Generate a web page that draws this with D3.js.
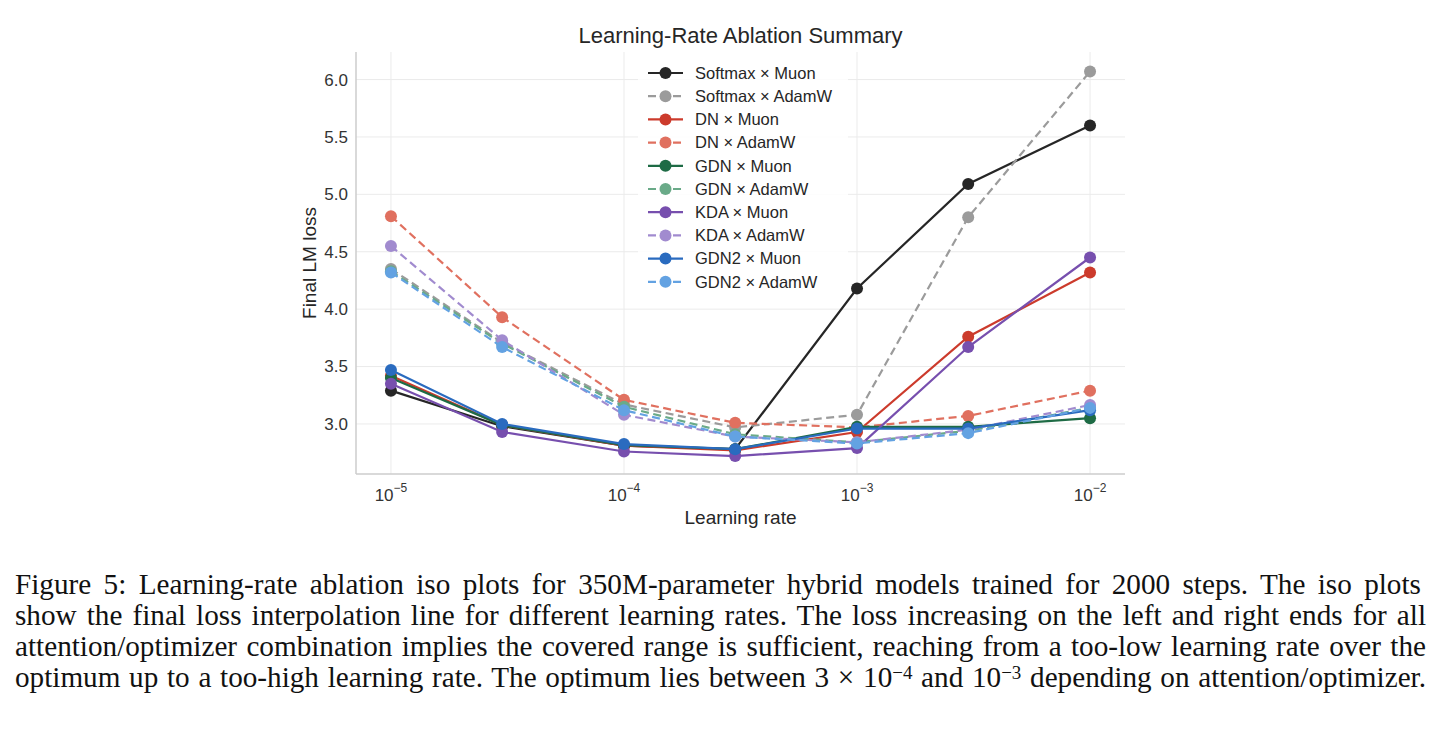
<!DOCTYPE html>
<html>
<head>
<meta charset="utf-8">
<style>
  body { margin: 0; background: #fff; }
  svg { display: block; }
</style>
<script src="https://cdn.jsdelivr.net/npm/d3@7"></script>
</head>
<body>
<div id="chart"></div>
<script>
// learning rates swept
var lrs = [1e-5, 3e-5, 1e-4, 3e-4, 1e-3, 3e-3, 1e-2];

// final LM loss per attention x optimizer combination
var softmaxMuon  = [3.29, 2.98, 2.81, 2.78, 4.18, 5.09, 5.60];
var softmaxAdamW = [4.35, 3.71, 3.17, 2.97, 3.08, 4.80, 6.07];
var dnMuon       = [3.42, 2.99, 2.81, 2.77, 2.93, 3.76, 4.32];
var dnAdamW      = [4.81, 3.93, 3.21, 3.01, 2.97, 3.07, 3.29];
var gdnMuon      = [3.40, 2.99, 2.815, 2.78, 2.975, 2.975, 3.05];
var gdnAdamW     = [4.33, 3.70, 3.15, 2.91, 2.84, 2.94, 3.14];
var kdaMuon      = [3.35, 2.93, 2.76, 2.72, 2.79, 3.67, 4.45];
var kdaAdamW     = [4.55, 3.73, 3.08, 2.89, 2.84, 2.95, 3.165];
var gdn2Muon     = [3.47, 3.00, 2.825, 2.78, 2.96, 2.96, 3.12];
var gdn2AdamW    = [4.32, 3.67, 3.12, 2.89, 2.83, 2.92, 3.14];

var seriesNames = ["Softmax × Muon", "Softmax × AdamW", "DN × Muon", "DN × AdamW",
                   "GDN × Muon", "GDN × AdamW", "KDA × Muon", "KDA × AdamW",
                   "GDN2 × Muon", "GDN2 × AdamW"];
var seriesValues = [softmaxMuon, softmaxAdamW, dnMuon, dnAdamW, gdnMuon, gdnAdamW,
                    kdaMuon, kdaAdamW, gdn2Muon, gdn2AdamW];
var colors = ["#262626", "#9b9b9b", "#cc3b2c", "#e0705f", "#1e6b45", "#6aaa88",
              "#774fae", "#a18bcf", "#2a6bbf", "#63a2e2"];
var dashed = [false, true, false, true, false, true, false, true, false, true];

var xTicks = [1e-5, 1e-4, 1e-3, 1e-2];
var yTicks = [3.0, 3.5, 4.0, 4.5, 5.0, 5.5, 6.0];

var captionLines = [
  "Figure 5: Learning-rate ablation iso plots for 350M-parameter hybrid models trained for 2000 steps.  The iso plots",
  "show the final loss interpolation line for different learning rates. The loss increasing on the left and right ends for all",
  "attention/optimizer combination implies the covered range is sufficient, reaching from a too-low learning rate over the",
  null
];

var W = 1440, H = 734;
var plotLeft = 356, plotRight = 1125, plotTop = 52, plotBottom = 474;
var font = "'Liberation Sans', Arial, sans-serif";

var svg = d3.select("#chart").append("svg")
    .attr("width", W).attr("height", H);

var x = d3.scaleLog().domain([Math.pow(10, -5.15), Math.pow(10, -1.85)]).range([plotLeft, plotRight]);
var y = d3.scaleLinear().domain([2.564, 6.24]).range([plotBottom, plotTop]);

// grid
var grid = svg.append("g");
grid.selectAll("line.gy").data(yTicks).enter().append("line")
    .attr("x1", plotLeft).attr("x2", plotRight)
    .attr("y1", function(d) { return y(d); }).attr("y2", function(d) { return y(d); })
    .attr("stroke", "#ebebeb").attr("stroke-width", 1);
grid.selectAll("line.gx").data(xTicks).enter().append("line")
    .attr("y1", plotTop).attr("y2", plotBottom)
    .attr("x1", function(d) { return x(d); }).attr("x2", function(d) { return x(d); })
    .attr("stroke", "#ebebeb").attr("stroke-width", 1);

// spines
svg.append("line").attr("x1", plotLeft).attr("x2", plotLeft).attr("y1", plotTop).attr("y2", plotBottom)
    .attr("stroke", "#cccccc").attr("stroke-width", 1.5);
svg.append("line").attr("x1", plotLeft).attr("x2", plotRight).attr("y1", plotBottom).attr("y2", plotBottom)
    .attr("stroke", "#cccccc").attr("stroke-width", 1.5);

// y tick labels
svg.selectAll("text.yt").data(yTicks).enter().append("text")
    .attr("x", plotLeft - 8).attr("y", function(d) { return y(d); })
    .attr("dy", "0.35em").attr("text-anchor", "end")
    .attr("font-family", font).attr("font-size", 17).attr("fill", "#333")
    .text(function(d) { return d.toFixed(1); });

// x tick labels 10^n
xTicks.forEach(function(d) {
  var t = svg.append("text")
      .attr("x", x(d)).attr("y", plotBottom + 27)
      .attr("text-anchor", "middle")
      .attr("font-family", font).attr("font-size", 17).attr("fill", "#333");
  t.append("tspan").text("10");
  t.append("tspan").attr("font-size", 12).attr("dy", -9)
      .text("−" + Math.round(-Math.log10(d)));
});

// axis labels and title
svg.append("text").attr("x", (plotLeft + plotRight) / 2).attr("y", 524)
    .attr("text-anchor", "middle").attr("font-family", font).attr("font-size", 19)
    .attr("fill", "#262626").text("Learning rate");
svg.append("text").attr("transform", "translate(316," + ((plotTop + plotBottom) / 2) + ") rotate(-90)")
    .attr("text-anchor", "middle").attr("font-family", font).attr("font-size", 19)
    .attr("fill", "#262626").text("Final LM loss");
svg.append("text").attr("x", (plotLeft + plotRight) / 2).attr("y", 43)
    .attr("text-anchor", "middle").attr("font-family", font).attr("font-size", 22)
    .attr("fill", "#262626").text("Learning-Rate Ablation Summary");

// series
var line = d3.line()
    .x(function(d, i) { return x(lrs[i]); })
    .y(function(d) { return y(d); });

seriesValues.forEach(function(vals, k) {
  var g = svg.append("g");
  g.append("path").datum(vals)
      .attr("d", line).attr("fill", "none")
      .attr("stroke", colors[k]).attr("stroke-width", 2.2)
      .attr("stroke-dasharray", dashed[k] ? "8,4.5" : null);
  g.selectAll("circle").data(vals).enter().append("circle")
      .attr("cx", function(d, i) { return x(lrs[i]); })
      .attr("cy", function(d) { return y(d); })
      .attr("r", 6).attr("fill", colors[k]);
});

// legend
var lg = svg.append("g");
lg.append("rect").attr("x", 638).attr("y", 60).attr("width", 210).attr("height", 234)
    .attr("fill", "#fff").attr("fill-opacity", 0.85);
seriesNames.forEach(function(name, k) {
  var yy = 73 + k * 23.2;
  lg.append("line").attr("x1", 648).attr("x2", 683).attr("y1", yy).attr("y2", yy)
      .attr("stroke", colors[k]).attr("stroke-width", 2.2)
      .attr("stroke-dasharray", dashed[k] ? "8,4.5" : null);
  lg.append("circle").attr("cx", 665.5).attr("cy", yy).attr("r", 6).attr("fill", colors[k]);
  lg.append("text").attr("x", 695).attr("y", yy).attr("dy", "0.35em")
      .attr("font-family", font).attr("font-size", 16.5).attr("fill", "#262626")
      .text(name);
});

// caption (fit size to the widest line, then justify)
var serif = "'Liberation Serif', 'Times New Roman', serif";
var capX = 15, capW = 1411, capSize = 24;
var baselines = [594, 625, 656, 687];
var capTexts = [];
captionLines.forEach(function(s, i) {
  var t = svg.append("text").attr("x", capX).attr("y", baselines[i])
      .attr("font-family", serif).attr("font-size", capSize).attr("fill", "#111");
  if (s !== null) {
    t.text(s);
  } else {
    t.append("tspan").text("optimum up to a too-high learning rate. The optimum lies between 3 × 10");
    t.append("tspan").attr("class", "sup").attr("dy", -8).text("−4");
    t.append("tspan").attr("dy", 8).text(" and 10");
    t.append("tspan").attr("class", "sup").attr("dy", -8).text("−3");
    t.append("tspan").attr("dy", 8).text(" depending on attention/optimizer.");
  }
  capTexts.push(t);
});
capTexts[3].selectAll("tspan.sup").attr("font-size", capSize * 0.65);
var maxW = d3.max(capTexts, function(t) { return t.node().getComputedTextLength(); });
var fit = capSize * (capW - 25) / maxW;
capTexts.forEach(function(t) {
  t.attr("font-size", fit);
  t.selectAll("tspan.sup").attr("font-size", fit * 0.65);
});
capTexts.forEach(function(t) {
  var w = t.node().getComputedTextLength();
  var spaces = (t.text().match(/ /g) || []).length;
  if (spaces > 0) t.attr("word-spacing", (capW - w) / spaces);
});
</script>
</body>
</html>
